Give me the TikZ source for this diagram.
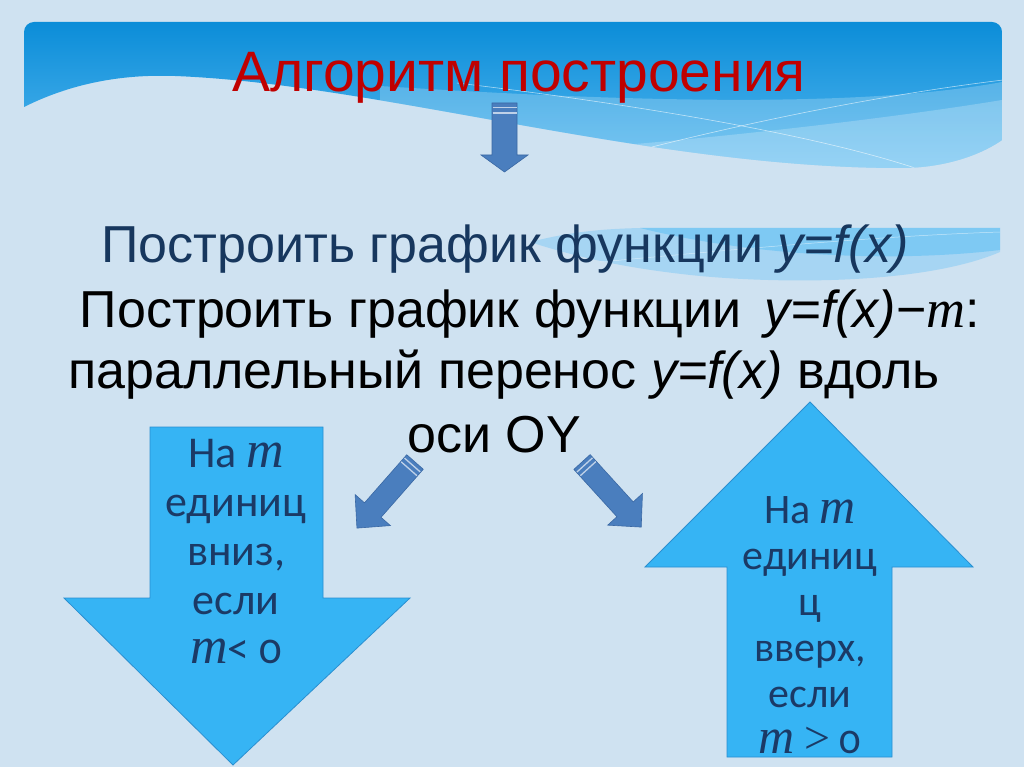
\documentclass[tikz,border=0pt]{standalone}
\usepackage{fontspec}
\setmainfont{Liberation Sans}
\newfontfamily\carl[Numbers=OldStyle]{Carlito}
\newfontfamily\serifm{Liberation Serif}
\definecolor{bg}{HTML}{CFE2F1}
\definecolor{bandtop}{HTML}{0B8DD8}
\definecolor{bandbot}{HTML}{55B8F0}
\definecolor{titlered}{HTML}{C00000}
\definecolor{navy}{HTML}{17375E}
\definecolor{arrowblue}{HTML}{36B4F4}
\definecolor{arrowedge}{HTML}{2A8FD0}
\definecolor{smallblue}{HTML}{4A7EBE}
\definecolor{smalledge}{HTML}{3A68A4}
\definecolor{inktext}{HTML}{1B3A66}
\definecolor{stripeblue}{HTML}{8CCDF5}
\newcommand{\mm}[1]{{\serifm\itshape\fontsize{#1}{#1}\selectfont m}}
\newcommand{\gtsym}[1]{{\serifm\fontsize{#1}{#1}\selectfont >}}
\tikzset{
  titletext/.style={font=\fontsize{57}{60}\selectfont, text=titlered, inner sep=0pt, anchor=base},
  linetext/.style={font=\fontsize{52}{56}\selectfont, inner sep=0pt, anchor=base},
  bigarrow/.style={fill=arrowblue, draw=arrowedge, line width=0.8pt, line join=miter},
  smallarrow/.style={fill=smallblue, draw=smalledge, line width=0.6pt},
  stripe/.style={draw=white, opacity=0.65, line width=1.3pt},
  arrowtext/.style={text=inktext, align=center, inner sep=0pt, anchor=north},
}
\begin{document}
\begin{tikzpicture}[x=1pt,y=-1pt]
\useasboundingbox (0,0) rectangle (1024,767);
\fill[bg] (0,0) rectangle (1024,767);
% top wavy band
\begin{scope}
  \clip[rounded corners=10pt] (24,22) rectangle (1002,200);
  \clip (24,0) -- (24,107) .. controls (70,84) and (120,74) .. (175,76)
        .. controls (380,84) and (650,168) .. (900,168)
        .. controls (950,168) and (985,152) .. (1002,140) -- (1002,0) -- cycle;
  \shade[top color=bandtop, bottom color=bandbot] (24,22) rectangle (1002,170);
  \fill[white, opacity=0.22] (380,200) -- (380,86) .. controls (600,100) and (850,110) .. (1002,82) -- (1002,200) -- cycle;
  \fill[white, opacity=0.22] (560,200) -- (560,150) .. controls (700,140) and (880,120) .. (1002,100) -- (1002,200) -- cycle;
  \draw[white, opacity=0.6, line width=0.6pt] (457,83) .. controls (600,100) and (800,130) .. (915,168);
  \draw[white, opacity=0.6, line width=0.6pt] (640,150) .. controls (750,122) and (880,95) .. (1003,80);
\end{scope}
% lower decorative stripe
\fill[stripeblue, opacity=0.6] (530,242) .. controls (570,232) and (600,229) .. (640,228) -- (1000,228)
   -- (1000,252) .. controls (930,282) and (800,285) .. (700,276) .. controls (620,268) and (570,255) .. (530,242) -- cycle;
\fill[arrowblue, opacity=0.35] (640,228) -- (1000,228) -- (1000,250) .. controls (900,262) and (760,258) .. (640,228) -- cycle;
\draw[white, opacity=0.55, line width=0.5pt] (600,262) .. controls (750,248) and (880,236) .. (1000,232);
% title
\node[titletext] (title) at (519,92) {Алгоритм построения};
% small down arrow
\draw[smallarrow] (492,103) -- (517,103) -- (517,155) -- (528,155) -- (504.5,172) -- (481,155) -- (492,155) -- cycle;
\draw[stripe] (492.5,107.5) -- (516.5,107.5);
\draw[stripe] (492.5,113) -- (516.5,113);
% text lines
\node[linetext, text=navy] (l1) at (505,262) {Построить график функции \textit{y=f(x)}};
\node[linetext] (l2) at (530,327) {Построить график функции \,\textit{y=f(x)}−\mm{54}:};
\node[linetext] (l3) at (504,388) {параллельный перенос \textit{y=f(x)} вдоль};
\node[linetext] (l4) at (494,452) {оси OY};
% diagonal arrows
\begin{scope}[shift={(415,462)}, rotate=228.7]
  \draw[smallarrow] (0,-11) -- (64,-11) -- (64,-23.5) -- (88,0) -- (64,23.5) -- (64,11) -- (0,11) -- cycle;
  \draw[stripe] (4,-10.5) -- (4,10.5);
  \draw[stripe] (9,-10.5) -- (9,10.5);
\end{scope}
\begin{scope}[shift={(582,462)}, rotate=-47.7]
  \draw[smallarrow] (0,-11) -- (64,-11) -- (64,-23.5) -- (88,0) -- (64,23.5) -- (64,11) -- (0,11) -- cycle;
  \draw[stripe] (4,-10.5) -- (4,10.5);
  \draw[stripe] (9,-10.5) -- (9,10.5);
\end{scope}
% big arrows
\draw[bigarrow] (150,427) -- (323,427) -- (323,598) -- (410,598) -- (233,765) -- (64,598) -- (150,598) -- cycle;
\draw[bigarrow] (810,402) -- (973,567) -- (892,567) -- (892,757) -- (727,757) -- (727,567) -- (645,567) -- cycle;
\node[arrowtext, font=\carl\fontsize{44}{49}\selectfont] (ltext) at (236,439) {На \mm{52}\\единиц\\вниз,\\если\\\mm{52}< 0};
\node[arrowtext, font=\carl\fontsize{42}{46}\selectfont] (rtext) at (810,496) {На \mm{50}\\единиц\\ц\\вверх,\\если\\\mm{50} \gtsym{46} 0};
\end{tikzpicture}
\end{document}
